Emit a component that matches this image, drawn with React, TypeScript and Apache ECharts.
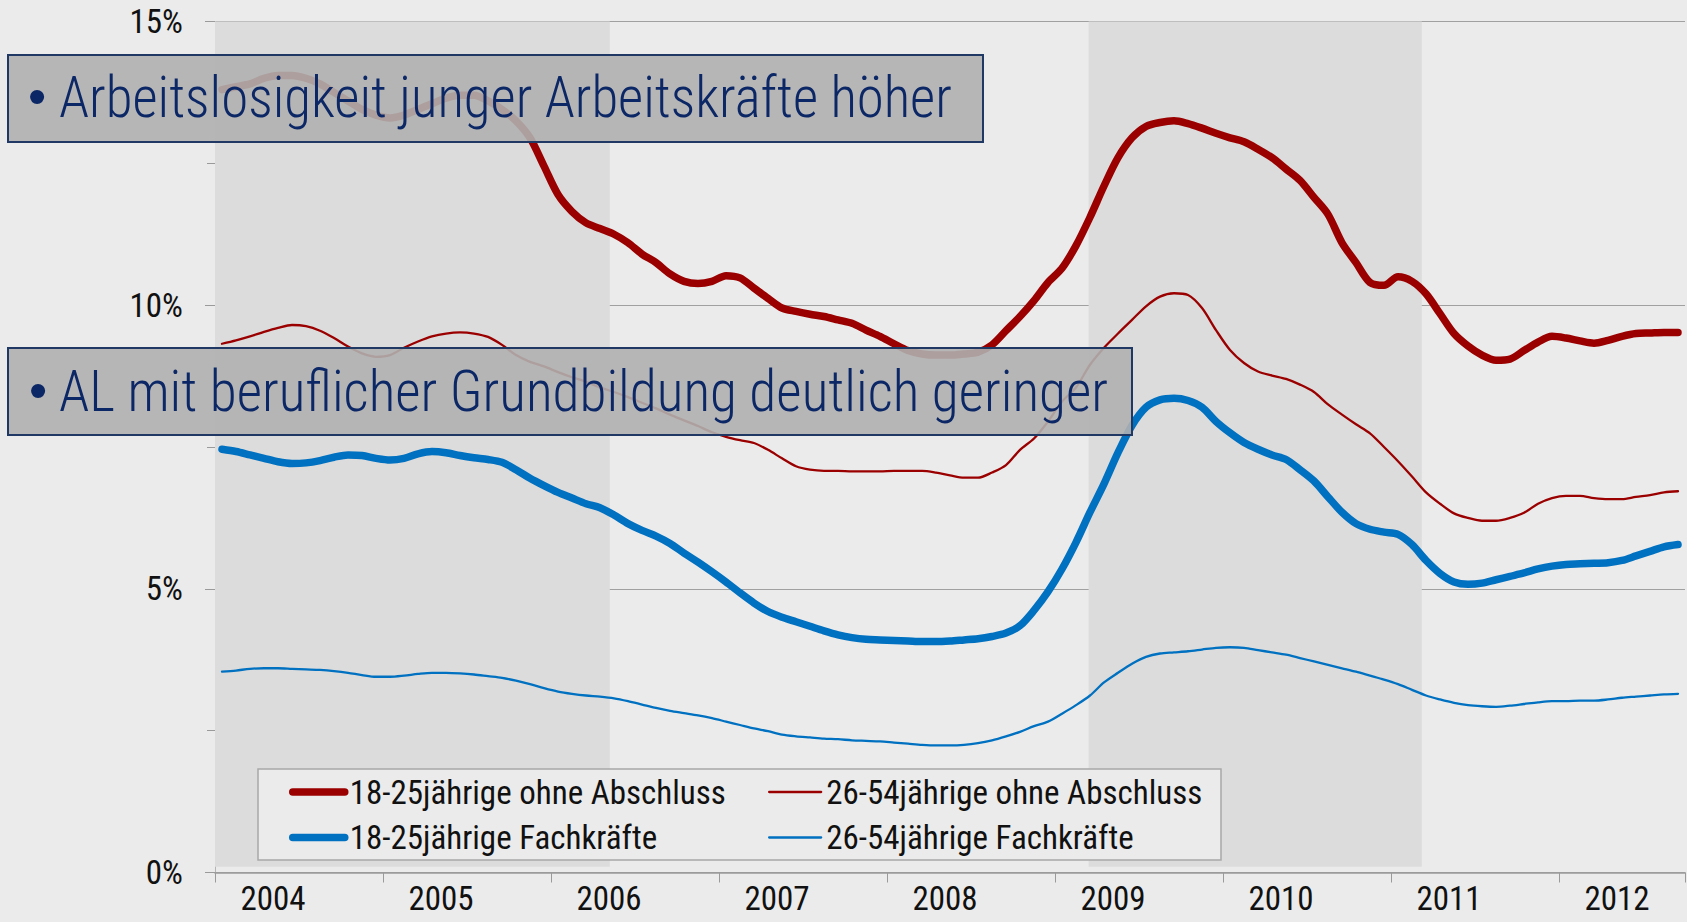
import React, { useEffect, useRef } from 'react';
import * as echarts from 'echarts';

// ---------- data ----------
const YEARS = ['2004', '2005', '2006', '2007', '2008', '2009', '2010', '2011', '2012'];
const MONTHS_IN_LAST_YEAR = 9;

const SERIES_NAMES = [
  '18-25jährige ohne Abschluss',
  '26-54jährige ohne Abschluss',
  '18-25jährige Fachkräfte',
  '26-54jährige Fachkräfte',
];

// monthly unemployment rates (%), Jan 2004 – Sep 2012
const youngOhne = [
  13.8, 13.85, 13.9, 14.0, 14.05, 14.05, 14.0, 13.9, 13.75, 13.6, 13.45, 13.35,
  13.3, 13.35, 13.45, 13.55, 13.65, 13.7, 13.7, 13.6, 13.45, 13.25, 12.95, 12.45,
  11.95, 11.65, 11.45, 11.35, 11.25, 11.1, 10.9, 10.75, 10.55, 10.42, 10.38, 10.42,
  10.52, 10.48, 10.3, 10.12, 9.95, 9.89, 9.84, 9.8, 9.74, 9.68, 9.56, 9.45,
  9.32, 9.2, 9.14, 9.12, 9.12, 9.14, 9.17, 9.3, 9.55, 9.8, 10.08, 10.4,
  10.65, 11.05, 11.55, 12.1, 12.6, 12.95, 13.15, 13.22, 13.25, 13.2, 13.12, 13.03,
  12.95, 12.88, 12.75, 12.6, 12.4, 12.2, 11.9, 11.6, 11.1, 10.75, 10.4, 10.35,
  10.5, 10.42, 10.2, 9.85, 9.5, 9.28, 9.12, 9.03, 9.05, 9.2, 9.35, 9.45,
  9.42, 9.37, 9.33, 9.38, 9.45, 9.5, 9.51, 9.52, 9.52,
];
const olderOhne = [
  9.32, 9.38, 9.45, 9.53, 9.6, 9.65, 9.63, 9.55, 9.42, 9.27, 9.15, 9.09,
  9.12, 9.25, 9.36, 9.45, 9.5, 9.52, 9.5, 9.44, 9.3, 9.12, 9.0, 8.92,
  8.82, 8.73, 8.65, 8.55, 8.47, 8.38, 8.28, 8.18, 8.07, 7.97, 7.87, 7.76,
  7.68, 7.62, 7.57, 7.45, 7.3, 7.16, 7.1, 7.08, 7.08, 7.07, 7.07, 7.07,
  7.08, 7.08, 7.08, 7.05, 7.0, 6.96, 6.96, 7.05, 7.18, 7.45, 7.65, 7.95,
  8.3, 8.55, 8.95, 9.25, 9.5, 9.74, 9.98, 10.15, 10.21, 10.18, 9.95, 9.56,
  9.21, 8.98, 8.83, 8.76, 8.7, 8.6, 8.47, 8.25, 8.07, 7.9, 7.74, 7.5,
  7.25, 6.98, 6.7, 6.5, 6.33, 6.25, 6.2, 6.2, 6.25, 6.34, 6.5, 6.6,
  6.64, 6.64, 6.6, 6.58, 6.58, 6.62, 6.65, 6.7, 6.72,
];
const youngFach = [
  7.46, 7.42, 7.36, 7.3, 7.24, 7.21, 7.22, 7.26, 7.32, 7.36, 7.35, 7.3,
  7.27, 7.3, 7.38, 7.42, 7.4, 7.35, 7.31, 7.28, 7.23, 7.1, 6.95, 6.82,
  6.7, 6.6, 6.5, 6.43, 6.3, 6.15, 6.03, 5.93, 5.8, 5.63, 5.47, 5.3,
  5.12, 4.93, 4.75, 4.6, 4.5, 4.42, 4.34, 4.26, 4.19, 4.14, 4.11, 4.1,
  4.09, 4.08, 4.07, 4.07, 4.08, 4.1, 4.12, 4.16, 4.22, 4.35, 4.62, 4.95,
  5.35, 5.82, 6.35, 6.85, 7.4, 7.88, 8.2, 8.33, 8.36, 8.32, 8.2, 7.95,
  7.75, 7.58, 7.46, 7.36, 7.28, 7.1, 6.9, 6.62, 6.35, 6.15, 6.05, 6.0,
  5.96, 5.78, 5.5, 5.27, 5.12, 5.08, 5.1, 5.16, 5.22, 5.28, 5.35, 5.4,
  5.43, 5.44, 5.45, 5.46, 5.5, 5.58, 5.66, 5.74, 5.78,
];
const olderFach = [
  3.54, 3.56, 3.59, 3.6, 3.6, 3.59, 3.58, 3.57, 3.55, 3.52, 3.48, 3.45,
  3.45, 3.47, 3.5, 3.52, 3.52, 3.51, 3.49, 3.46, 3.43, 3.38, 3.32, 3.25,
  3.19, 3.15, 3.12, 3.1, 3.07, 3.02, 2.96, 2.9, 2.85, 2.81, 2.77, 2.72,
  2.66, 2.6, 2.54, 2.49, 2.43, 2.4, 2.38, 2.36, 2.35, 2.33, 2.32, 2.31,
  2.29, 2.27, 2.25, 2.24, 2.24, 2.25, 2.28, 2.33, 2.4, 2.48, 2.58, 2.66,
  2.8, 2.95, 3.12, 3.35, 3.52, 3.68, 3.8, 3.86, 3.88, 3.9, 3.93, 3.96,
  3.97, 3.96, 3.92, 3.88, 3.84, 3.78, 3.72, 3.66, 3.6, 3.54, 3.47, 3.4,
  3.32, 3.22, 3.12, 3.05, 2.99, 2.95, 2.93, 2.92, 2.94, 2.97, 3.0, 3.02,
  3.02, 3.03, 3.03, 3.05, 3.08, 3.1, 3.12, 3.14, 3.15,
];

// shaded periods, in months from Jan 2004
const BANDS: [number, number][] = [
  [0, 28.2],
  [62.4, 86.2],
];

const Y_MIN = 0;
const Y_MAX = 15;
const Y_STEP = 5;

const HEADLINES = [
  'Arbeitslosigkeit junger Arbeitskräfte höher',
  'AL mit beruflicher Grundbildung deutlich geringer',
];

// ---------- helpers ----------
const MONTHS: string[] = [];
YEARS.forEach((y, yi) => {
  const n = yi === YEARS.length - 1 ? MONTHS_IN_LAST_YEAR : 12;
  for (let m = 1; m <= n; m++) MONTHS.push(`${y}-${m < 10 ? '0' + m : m}`);
});

const RED = '#9b0000';
const BLUE = '#0070c0';
const NAVY = '#0c2766';

const FONT_CANDIDATES = [
  'Liberation Sans Narrow',
  'Arial Narrow',
  'Noto Sans Condensed',
  'Roboto Condensed',
  'Noto Sans SemiCondensed',
  'DejaVu Sans Condensed',
  'Liberation Sans',
];

function getCtx() {
  try {
    return document.createElement('canvas').getContext('2d');
  } catch (e) {
    return null;
  }
}

function hasFont(ctx: CanvasRenderingContext2D, name: string) {
  const test = 'mmmmmmmmmmlli1WQ2004%';
  for (const base of ['monospace', 'serif']) {
    ctx.font = `40px ${base}`;
    const w0 = ctx.measureText(test).width;
    ctx.font = `40px '${name}', ${base}`;
    const w1 = ctx.measureText(test).width;
    if (Math.abs(w0 - w1) > 0.5) return true;
  }
  return false;
}

function measure(ctx: CanvasRenderingContext2D | null, text: string, size: number, family: string, weight = 'normal') {
  if (!ctx) return 0;
  ctx.font = `${weight} ${size}px ${family}`;
  return ctx.measureText(text).width;
}

export default function App() {
  const ref = useRef<HTMLDivElement>(null);

  useEffect(() => {
    if (!ref.current) return;
    const ctx = getCtx();
    let chosen = 'Liberation Sans';
    if (ctx) {
      for (const c of FONT_CANDIDATES) {
        if (hasFont(ctx, c)) {
          chosen = c;
          break;
        }
      }
    }
    const FAMILY = `'${chosen}', 'Liberation Sans', sans-serif`;

    // font sizes fitted to the reference text widths (capped at reference size)
    const fit = (text: string, maxSize: number, target: number) => {
      const w = measure(ctx, text, maxSize, FAMILY);
      return w > 0 ? Math.min(maxSize, Math.round(((maxSize * target) / w) * 10) / 10) : maxSize;
    };
    const axisFont = fit('2004', 33, 66);
    const legendFont = fit(SERIES_NAMES[1], 33, 385);

    const titleSize = 57;
    const titleWeight = 300;
    const s1 = (() => {
      const w = measure(ctx, HEADLINES[0], titleSize, FAMILY, String(titleWeight));
      return w > 0 ? 893 / w : 1;
    })();
    const s2 = (() => {
      const w = measure(ctx, HEADLINES[1], titleSize, FAMILY, String(titleWeight));
      return w > 0 ? 1049 / w : 1;
    })();

    const chart = echarts.init(ref.current, undefined, { renderer: 'svg' });

    const lineSeries = (name: string, data: number[], color: string, width: number) => ({
      name,
      type: 'line',
      data,
      symbol: 'none',
      smooth: 0.3,
      xAxisIndex: 0,
      yAxisIndex: 0,
      z: 2,
      lineStyle: { color, width, cap: 'round', join: 'round' },
      itemStyle: { color },
    });

    const legendCommon = {
      orient: 'vertical',
      top: 792 - legendFont / 2,
      itemHeight: 8,
      itemGap: 45.5 - legendFont,
      padding: 0,
      selectedMode: false,
      itemStyle: { opacity: 0 },
      textStyle: { fontSize: legendFont, fontFamily: FAMILY, color: '#111', lineHeight: legendFont },
    };

    const option: any = {
      animation: false,
      backgroundColor: '#ebebeb',
      grid: { left: 215, right: 2, top: 21.5, bottom: 49.5 },
      xAxis: [
        {
          type: 'category',
          data: MONTHS,
          boundaryGap: true,
          axisLine: { lineStyle: { color: '#9a9a9a', width: 1.5 } },
          axisTick: {
            show: true,
            interval: (i: number) => i % 12 === 0,
            length: 10,
            lineStyle: { color: '#9a9a9a' },
          },
          axisLabel: {
            interval: (i: number) => i % 12 === 4,
            formatter: (v: string) => v.slice(0, 4),
            margin: 915 - 872.5 - axisFont,
            fontSize: axisFont,
            lineHeight: axisFont,
            fontFamily: FAMILY,
            color: '#111',
            padding: [0, 10, 0, 0],
          },
          splitLine: { show: false },
        },
        {
          type: 'value',
          min: 0,
          max: MONTHS.length,
          show: false,
        },
      ],
      yAxis: {
        type: 'value',
        min: Y_MIN,
        max: Y_MAX,
        interval: Y_STEP,
        axisLine: { show: true, lineStyle: { color: '#b4b4b4' } },
        axisTick: { show: true, length: 10, lineStyle: { color: '#9a9a9a' } },
        minorTick: { show: true, splitNumber: 2, length: 8, lineStyle: { color: '#9a9a9a' } },
        axisLabel: {
          formatter: '{value}%',
          margin: 32,
          fontSize: axisFont,
          fontFamily: FAMILY,
          color: '#111',
        },
        splitLine: { show: true, lineStyle: { color: '#a0a0a0', width: 1 } },
      },
      legend: [
        {
          ...legendCommon,
          left: 289,
          itemWidth: 52,
          lineStyle: { width: 7.5, cap: 'round' },
          data: [SERIES_NAMES[0], SERIES_NAMES[2]],
        },
        {
          ...legendCommon,
          left: 768,
          itemWidth: 52,
          lineStyle: { width: 2.3 },
          data: [SERIES_NAMES[1], SERIES_NAMES[3]],
        },
      ],
      series: [
        {
          name: 'bands',
          type: 'line',
          xAxisIndex: 1,
          yAxisIndex: 0,
          data: [],
          silent: true,
          z: 1,
          markArea: {
            silent: true,
            itemStyle: { color: '#dcdcdc' },
            data: BANDS.map(([a, b]) => [
              { xAxis: a, yAxis: 0.1 },
              { xAxis: b, yAxis: Y_MAX },
            ]),
          },
        },
        lineSeries(SERIES_NAMES[0], youngOhne, RED, 7.5),
        lineSeries(SERIES_NAMES[1], olderOhne, RED, 2.3),
        lineSeries(SERIES_NAMES[2], youngFach, BLUE, 7.5),
        lineSeries(SERIES_NAMES[3], olderFach, BLUE, 2.3),
      ],
      graphic: {
        elements: [
          {
            type: 'rect',
            z: 3,
            silent: true,
            shape: { x: 258, y: 769, width: 963, height: 91 },
            style: { fill: '#ebebeb', stroke: '#a8a8a8', lineWidth: 1.5 },
          },
          {
            type: 'rect',
            z: 100,
            silent: true,
            shape: { x: 8, y: 55, width: 975, height: 87 },
            style: { fill: 'rgba(176,176,176,0.9)', stroke: '#1f3864', lineWidth: 2 },
          },
          {
            type: 'text',
            z: 101,
            x: 37,
            y: 96,
            style: {
              text: '•',
              fontSize: 52,
              fontFamily: 'Liberation Sans, sans-serif',
              fill: NAVY,
              align: 'center',
              textAlign: 'center',
              verticalAlign: 'middle',
              textVerticalAlign: 'middle',
            },
          },
          {
            type: 'text',
            z: 101,
            x: 59,
            y: 97.5,
            scaleX: s1,
            style: {
              text: HEADLINES[0],
              fontSize: titleSize,
              fontWeight: titleWeight,
              fontFamily: FAMILY,
              fill: NAVY,
              align: 'left',
              textAlign: 'left',
              verticalAlign: 'middle',
              textVerticalAlign: 'middle',
            },
          },
          {
            type: 'rect',
            z: 100,
            silent: true,
            shape: { x: 8, y: 348, width: 1124, height: 87 },
            style: { fill: 'rgba(176,176,176,0.9)', stroke: '#1f3864', lineWidth: 2 },
          },
          {
            type: 'text',
            z: 101,
            x: 38,
            y: 390,
            style: {
              text: '•',
              fontSize: 52,
              fontFamily: 'Liberation Sans, sans-serif',
              fill: NAVY,
              align: 'center',
              textAlign: 'center',
              verticalAlign: 'middle',
              textVerticalAlign: 'middle',
            },
          },
          {
            type: 'text',
            z: 101,
            x: 59,
            y: 391.7,
            scaleX: s2,
            style: {
              text: HEADLINES[1],
              fontSize: titleSize,
              fontWeight: titleWeight,
              fontFamily: FAMILY,
              fill: NAVY,
              align: 'left',
              textAlign: 'left',
              verticalAlign: 'middle',
              textVerticalAlign: 'middle',
            },
          },
        ],
      },
    };

    chart.setOption(option);
    return () => chart.dispose();
  }, []);

  return (
    <div
      ref={ref}
      style={{ position: 'fixed', left: 0, top: 0, width: 1687, height: 922, background: '#ebebeb' }}
    />
  );
}
